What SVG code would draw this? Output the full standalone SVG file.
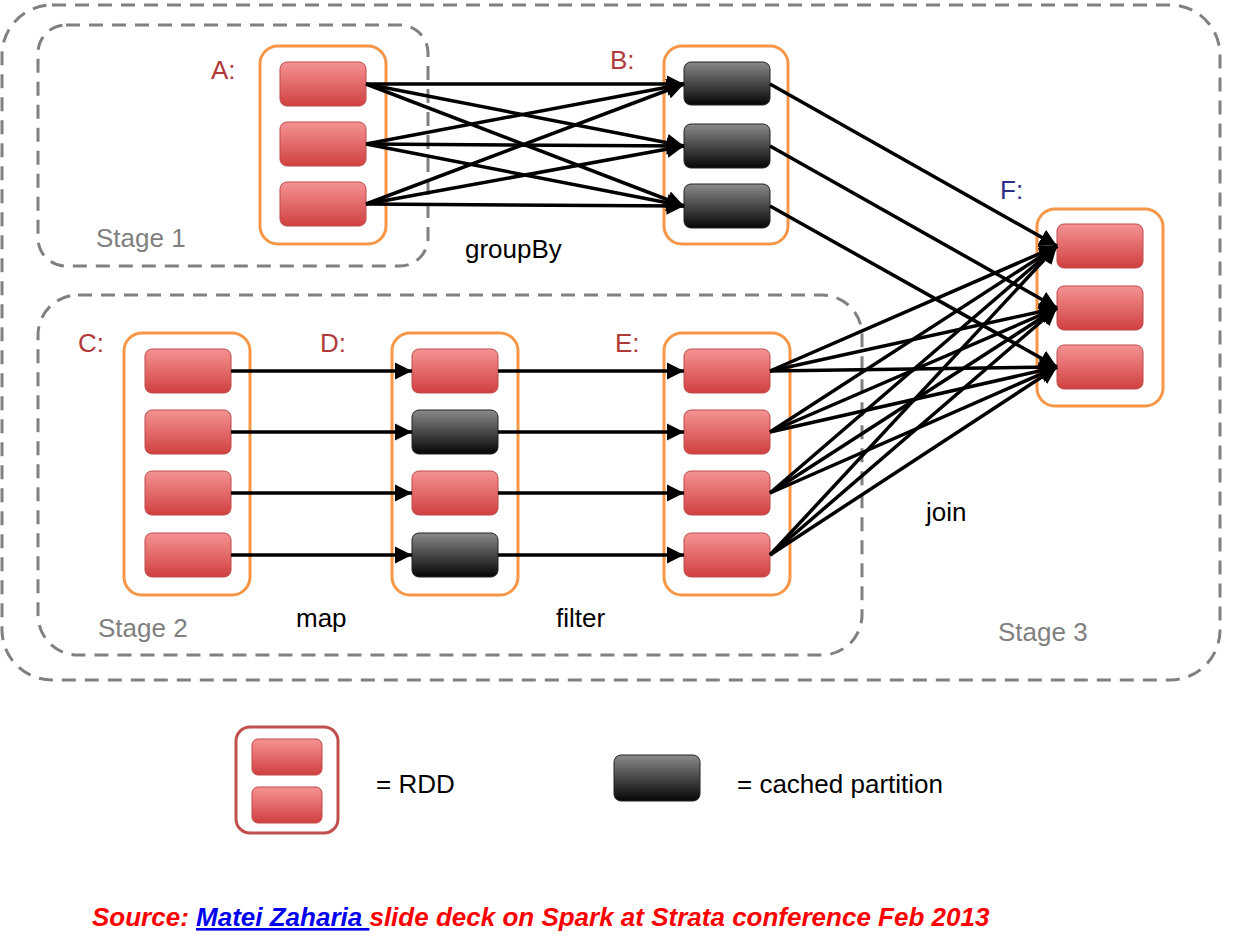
<svg xmlns="http://www.w3.org/2000/svg" width="1241" height="938" viewBox="0 0 1241 938">
<defs>
<linearGradient id="gr" x1="0" y1="0" x2="0" y2="1"><stop offset="0" stop-color="#f59393"/><stop offset="1" stop-color="#d04040"/></linearGradient>
<linearGradient id="gk" x1="0" y1="0" x2="0" y2="1"><stop offset="0" stop-color="#8a8a8a"/><stop offset="1" stop-color="#050505"/></linearGradient>
<marker id="ah" viewBox="0 0 10 10" refX="10" refY="5" markerWidth="6" markerHeight="6" markerUnits="userSpaceOnUse" orient="auto"><path d="M0,0 L10,5 L0,10 z" fill="#000"/></marker>
<marker id="a" viewBox="0 0 10 10" refX="10" refY="5" markerWidth="5" markerHeight="5" orient="auto"><path d="M0,0 L10,5 L0,10 z" fill="#000"/></marker>
</defs>
<style>
.r{fill:url(#gr);stroke:#c04848;stroke-width:1}
.k{fill:url(#gk);stroke:#222;stroke-width:1}
.c{fill:#fff;stroke:#f79646;stroke-width:3}
.st{fill:none;stroke:#808080;stroke-width:3;stroke-dasharray:14 9}
.e line{stroke:#000;stroke-width:3.5;marker-end:url(#a)}
text{font-family:"Liberation Sans",Arial,sans-serif;font-size:26px}
.lb{fill:#b03a3a}.sg{fill:#808080}
</style>
<rect class="st" x="2" y="5" width="1218" height="675" rx="50"/>
<rect class="st" x="38" y="25" width="390" height="241" rx="28"/>
<rect class="st" x="38" y="295" width="824" height="360" rx="40"/>
<text class="sg" x="96" y="247">Stage 1</text>
<text class="sg" x="98" y="637">Stage 2</text>
<text class="sg" x="998" y="641">Stage 3</text>
<g id="A"><rect class="c" x="260" y="46" width="126" height="198" rx="18"/>
<rect class="r" x="280" y="62" width="86" height="44" rx="7"/><rect class="r" x="280" y="122" width="86" height="44" rx="7"/><rect class="r" x="280" y="182" width="86" height="44" rx="7"/>
<text class="lb" x="211" y="79">A:</text></g>
<g id="B"><rect class="c" x="664" y="46" width="124" height="198" rx="18"/>
<rect class="k" x="684" y="62" width="86" height="43" rx="7"/><rect class="k" x="684" y="124" width="86" height="44" rx="7"/><rect class="k" x="684" y="184" width="86" height="44" rx="7"/>
<text class="lb" x="610" y="69">B:</text></g>
<g id="F"><rect class="c" x="1037" y="209" width="126" height="197" rx="18"/>
<rect class="r" x="1057" y="224" width="86" height="44" rx="7"/><rect class="r" x="1057" y="286" width="86" height="44" rx="7"/><rect class="r" x="1057" y="345" width="86" height="44" rx="7"/>
<text x="1000" y="199" fill="#2e2e8a">F:</text></g>
<g id="C"><rect class="c" x="124" y="333" width="126" height="262" rx="18"/>
<rect class="r" x="145" y="349" width="86" height="44" rx="7"/><rect class="r" x="145" y="410" width="86" height="44" rx="7"/><rect class="r" x="145" y="471" width="86" height="44" rx="7"/><rect class="r" x="145" y="533" width="86" height="44" rx="7"/>
<text class="lb" x="78" y="352">C:</text></g>
<g id="D"><rect class="c" x="392" y="333" width="126" height="262" rx="18"/>
<rect class="r" x="412" y="349" width="86" height="44" rx="7"/><rect class="k" x="412" y="410" width="86" height="44" rx="7"/><rect class="r" x="412" y="471" width="86" height="44" rx="7"/><rect class="k" x="412" y="533" width="86" height="44" rx="7"/>
<text class="lb" x="320" y="352">D:</text></g>
<g id="E"><rect class="c" x="664" y="333" width="126" height="262" rx="18"/>
<rect class="r" x="684" y="349" width="86" height="44" rx="7"/><rect class="r" x="684" y="410" width="86" height="44" rx="7"/><rect class="r" x="684" y="471" width="86" height="44" rx="7"/><rect class="r" x="684" y="533" width="86" height="44" rx="7"/>
<text class="lb" x="615" y="352">E:</text></g>
<g id="edges" class="e">
<line x1="366" y1="84" x2="684" y2="84"/><line x1="366" y1="84" x2="684" y2="146"/><line x1="366" y1="84" x2="684" y2="206"/>
<line x1="366" y1="144" x2="684" y2="84"/><line x1="366" y1="144" x2="684" y2="146"/><line x1="366" y1="144" x2="684" y2="206"/>
<line x1="366" y1="204" x2="684" y2="84"/><line x1="366" y1="204" x2="684" y2="146"/><line x1="366" y1="204" x2="684" y2="206"/>
<line x1="770" y1="84" x2="1057" y2="246"/><line x1="770" y1="146" x2="1057" y2="308"/><line x1="770" y1="206" x2="1057" y2="367"/>
<line x1="231" y1="371" x2="412" y2="371"/><line x1="231" y1="432" x2="412" y2="432"/><line x1="231" y1="493" x2="412" y2="493"/><line x1="231" y1="555" x2="412" y2="555"/>
<line x1="498" y1="371" x2="684" y2="371"/><line x1="498" y1="432" x2="684" y2="432"/><line x1="498" y1="493" x2="684" y2="493"/><line x1="498" y1="555" x2="684" y2="555"/>
<line x1="770" y1="371" x2="1057" y2="246"/><line x1="770" y1="371" x2="1057" y2="308"/><line x1="770" y1="371" x2="1057" y2="367"/>
<line x1="770" y1="432" x2="1057" y2="246"/><line x1="770" y1="432" x2="1057" y2="308"/><line x1="770" y1="432" x2="1057" y2="367"/>
<line x1="770" y1="493" x2="1057" y2="246"/><line x1="770" y1="493" x2="1057" y2="308"/><line x1="770" y1="493" x2="1057" y2="367"/>
<line x1="770" y1="555" x2="1057" y2="246"/><line x1="770" y1="555" x2="1057" y2="308"/><line x1="770" y1="555" x2="1057" y2="367"/>
</g>
<text x="465" y="258">groupBy</text>
<text x="296" y="627">map</text>
<text x="556" y="627">filter</text>
<text x="926" y="521">join</text>
<g id="legend-rdd"><rect x="236" y="727" width="102" height="106" rx="14" fill="#fff" stroke="#c0504d" stroke-width="3"/>
<rect class="r" x="252" y="739" width="70" height="36" rx="6"/><rect class="r" x="252" y="787" width="70" height="36" rx="6"/></g>
<text x="376" y="793">= RDD</text>
<g id="legend-cached"><rect class="k" x="614" y="755" width="86" height="46" rx="7"/></g>
<text x="737" y="793">= cached partition</text>
<text x="92" y="926" fill="#ff0000" font-weight="bold" font-style="italic" font-size="27">Source: <tspan fill="#0000ee" text-decoration="underline">Matei Zaharia </tspan>slide deck on Spark at Strata conference Feb 2013</text>
</svg>
